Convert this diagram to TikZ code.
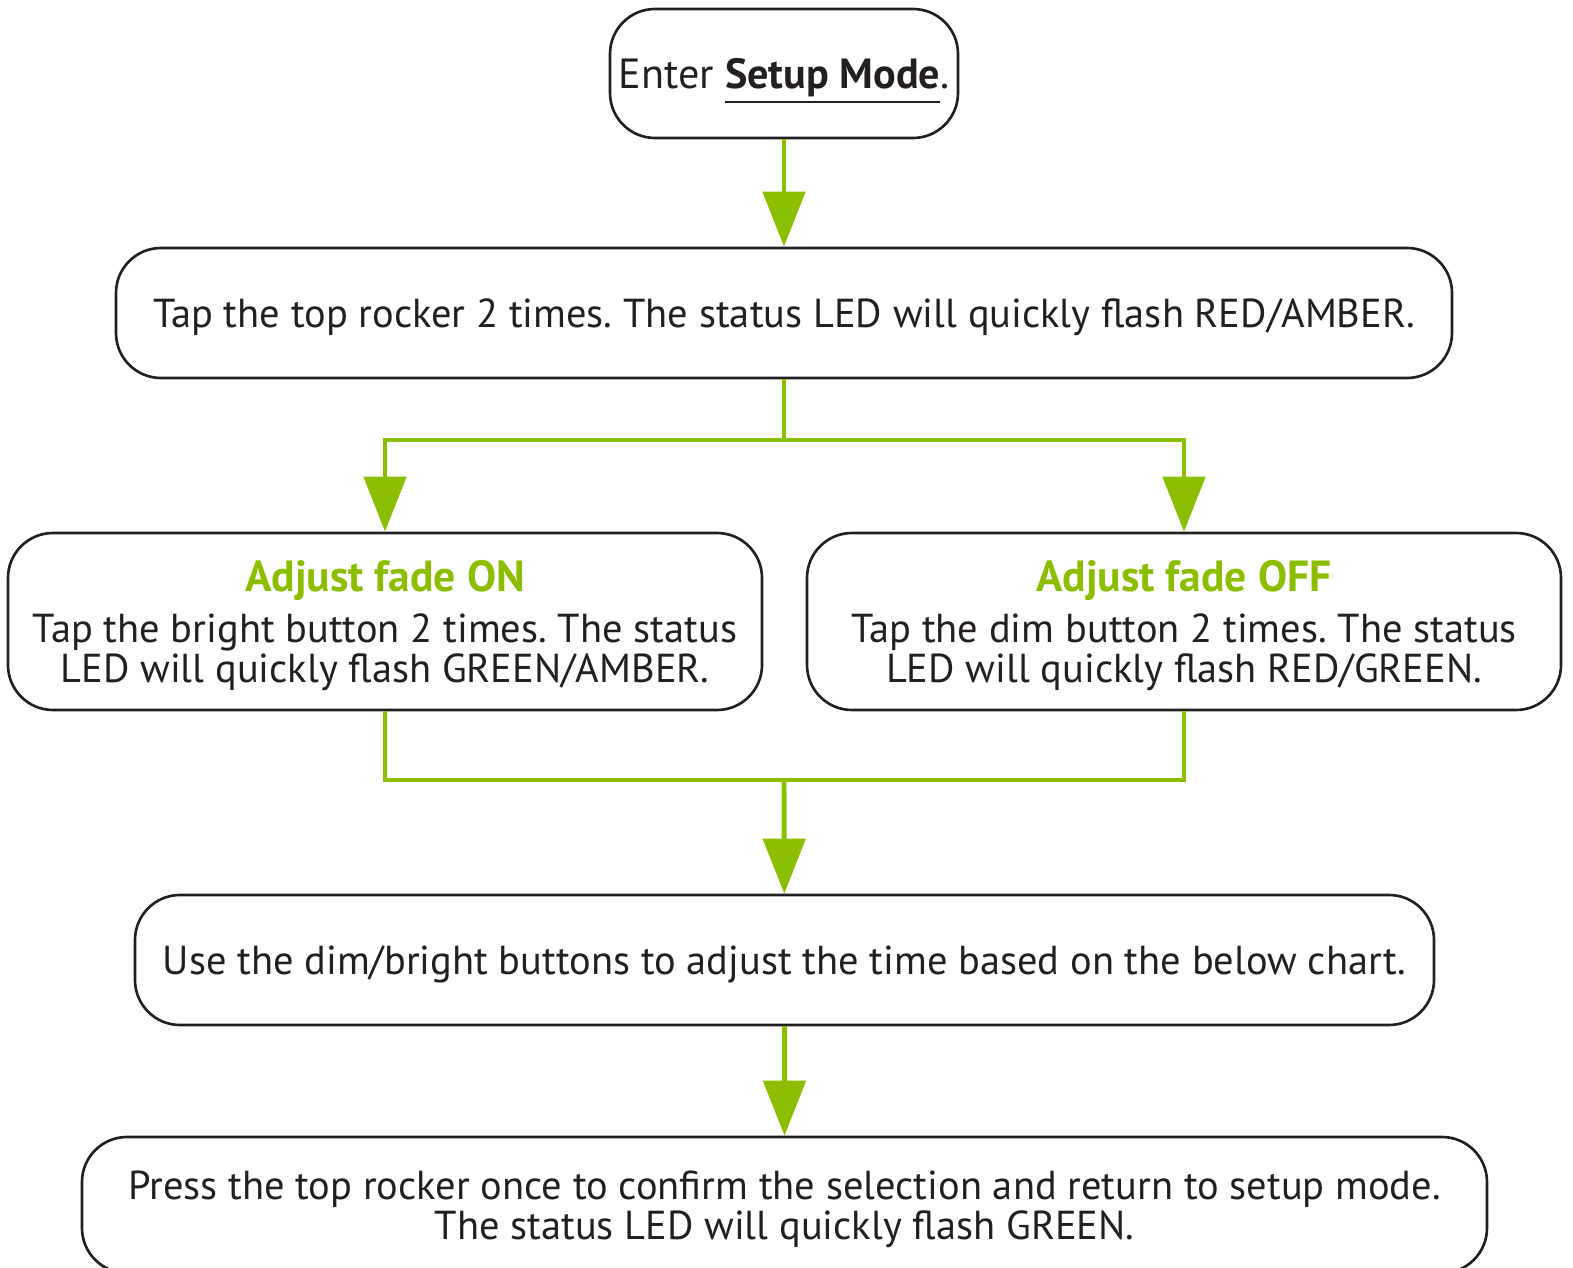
\documentclass[tikz,border=0pt]{standalone}
\usepackage{fontspec}
\setmainfont{PT Sans}
\usetikzlibrary{arrows.meta}
\definecolor{leafgreen}{RGB}{140,190,0}
\definecolor{inkgray}{RGB}{35,31,32}
\frenchspacing
\begin{document}
\begin{tikzpicture}[
        box/.style={rectangle, rounded corners=0.45cm, draw=inkgray, line width=0.75pt, text=inkgray, align=center, font=\fontsize{11.5}{11.4}\selectfont, inner sep=0pt, text depth=0pt},
        link/.style={draw=leafgreen, line width=1.4pt},
        arrow/.style={link, -{Triangle[width=4.2mm, length=5.5mm]}},
        head/.style={text=leafgreen, font=\bfseries}
    ]
        \useasboundingbox (0,0) rectangle (15.73,-12.68);

        \node[box, minimum width=3.48cm, minimum height=1.29cm, font=\fontsize{12}{12}\selectfont] (enter) at (7.84,-0.735) {Enter \underline{\textbf{Setup Mode}}.};
        \node[box, minimum width=13.36cm, minimum height=1.30cm] (tap) at (7.84,-3.13) {Tap the top rocker 2 times. The status LED will quickly flash RED/AMBER.};
        \node[box, minimum width=7.54cm, minimum height=1.77cm] (fadeon) at (3.85,-6.215) {{\fontsize{12.4}{12}\selectfont\color{leafgreen}\textbf{Adjust fade ON}}\\[3pt] Tap the bright button 2 times. The status\\ LED will quickly flash GREEN/AMBER.};
        \node[box, minimum width=7.54cm, minimum height=1.77cm] (fadeoff) at (11.84,-6.215) {{\fontsize{12.4}{12}\selectfont\color{leafgreen}\textbf{Adjust fade OFF}}\\[3pt] Tap the dim button 2 times. The status\\ LED will quickly flash RED/GREEN.};
        \node[box, minimum width=12.99cm, minimum height=1.30cm] (adjust) at (7.845,-9.60) {Use the dim/bright buttons to adjust the time based on the below chart.};
        \node[box, minimum width=14.05cm, minimum height=1.36cm] (confirm) at (7.845,-12.05) {Press the top rocker once to confirm the selection and return to setup mode.\\ The status LED will quickly flash GREEN.};

        \coordinate (split) at (7.84,-4.40);
        \coordinate (merge) at (7.84,-7.80);

        \draw[arrow] (enter) -- (tap);
        \draw[link] (tap) -- (split);
        \draw[arrow] (split) -| (fadeon.north);
        \draw[arrow] (split) -| (fadeoff.north);
        \draw[link] (fadeon.south) |- (merge) -| (fadeoff.south);
        \draw[arrow] (merge) -- (adjust);
        \draw[arrow] (adjust) -- (confirm);
    \end{tikzpicture}
\end{document}
